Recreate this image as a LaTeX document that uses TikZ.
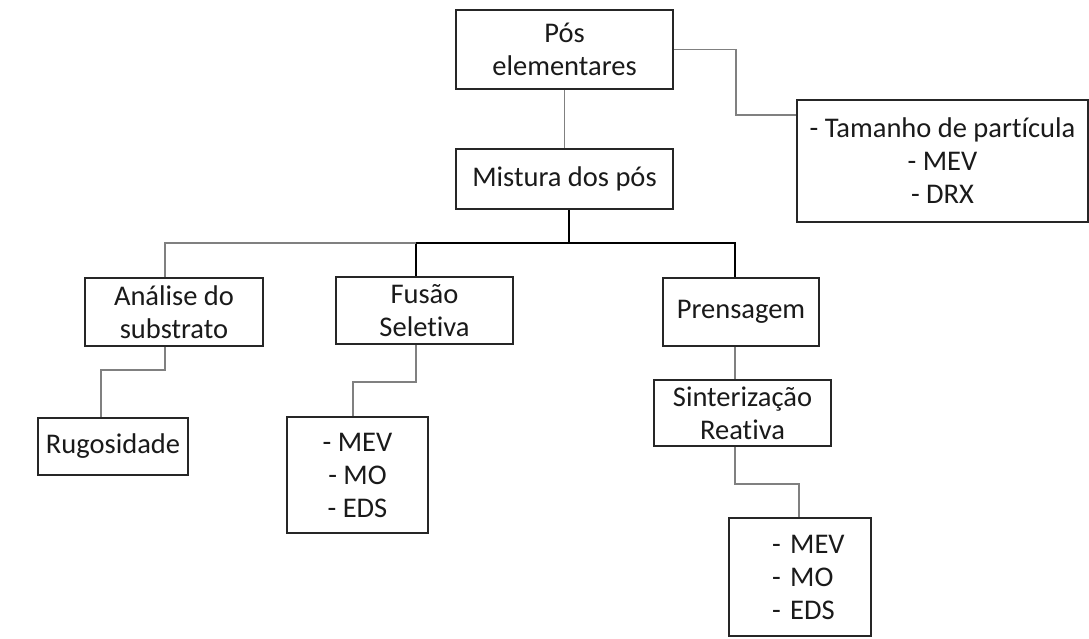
\documentclass[tikz,border=0pt]{standalone}
\usepackage{fontspec}
\setmainfont[Ligatures=NoCommon]{Carlito}
\definecolor{boxline}{HTML}{262626}
\definecolor{conn}{HTML}{808080}
\definecolor{txt}{HTML}{1A1A1A}
\begin{document}
\begin{tikzpicture}[x=1pt,y=-1pt,
  box/.style={draw=boxline,line width=1.6pt,rectangle,inner sep=0pt,
    font=\fontsize{28.5}{33}\selectfont,text=txt,align=center},
  link/.style={draw=conn,line width=1.3pt},
  blink/.style={draw=black,line width=1.4pt}]
\useasboundingbox[fill=white] (0,0) rectangle (1089,639);
% boxes
\node[box,minimum width=217pt,minimum height=79pt] (pos) at (564.5,49.5) {Pós\\elementares};
\node[box,minimum width=217pt,minimum height=60pt] (mist) at (564.5,179) {Mistura dos pós};
\node[box,minimum width=291pt,minimum height=122pt] (tam) at (942.5,161) {- Tamanho de partícula\\- MEV\\- DRX};
\node[box,minimum width=178pt,minimum height=68pt] (ana) at (174,312) {Análise do\\substrato};
\node[box,minimum width=177pt,minimum height=67pt] (fus) at (424.5,310.5) {Fusão\\Seletiva};
\node[box,minimum width=156pt,minimum height=68pt] (pre) at (741,312) {Prensagem};
\node[box,minimum width=150pt,minimum height=57pt] (rug) at (113,446.5) {Rugosidade};
\node[box,minimum width=141pt,minimum height=116pt] (mevA) at (357.5,475) {- MEV\\- MO\\- EDS};
\node[box,minimum width=177pt,minimum height=66pt] (sin) at (742.5,413) {Sinterização\\Reativa};
\node[box,minimum width=142pt,minimum height=118pt,align=left,text width=142pt] (mevB) at (800,577)
  {\hspace*{43pt}- MEV\\\hspace*{43pt}- MO\\\hspace*{43pt}- EDS};
% connectors
\draw[link] (pos.south) -- (mist.north);
\draw[link] (pos.east) -- (pos.east -| 736,0) -- (736,115) -- (tam.west |- 0,115);
\coordinate (bus) at (569,243);
\draw[blink] ([xshift=4.5pt]mist.south) -- (bus);
\draw[blink] (bus) -- (416,243) -- (fus.north -| 416,0);
\draw[blink] (bus) -- (735,243) -- (pre.north -| 735,0);
\draw[link] (416,243) -- (165,243) -- (ana.north -| 165,0);
\draw[link] (ana.south -| 165,0) -- (165,370) -- (101,370) -- (rug.north -| 101,0);
\draw[link] (fus.south -| 416,0) -- (416,382) -- (353,382) -- (mevA.north -| 353,0);
\draw[link] (pre.south -| 735,0) -- (sin.north -| 735,0);
\draw[link] (sin.south -| 735,0) -- (735,484) -- (799,484) -- (mevB.north -| 799,0);
\end{tikzpicture}
\end{document}
